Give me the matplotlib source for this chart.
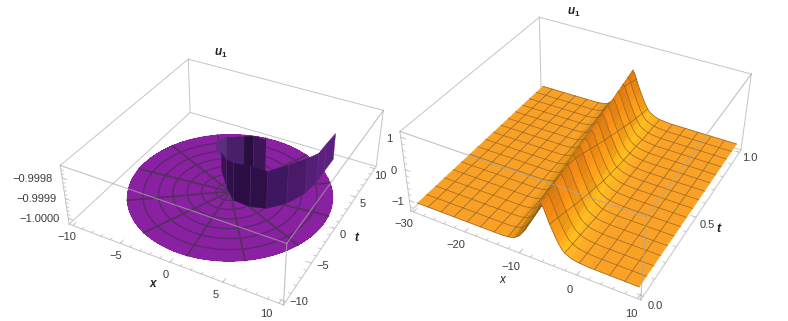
import numpy as np
import matplotlib
matplotlib.use("Agg")
import matplotlib.pyplot as plt
from matplotlib.colors import to_rgba
from mpl_toolkits.mplot3d import proj3d

W, H = 788, 321

plt.rcParams["font.family"] = ["Liberation Sans", "DejaVu Sans"]
plt.rcParams["mathtext.fontset"] = "custom"
plt.rcParams["mathtext.rm"] = "Liberation Sans"
plt.rcParams["mathtext.bf"] = "Liberation Sans:bold"
plt.rcParams["mathtext.bfit"] = "Liberation Sans:italic:bold"

# left panel: polar sheet at u = -1 with a wall on it
disk_level = -1.0
disk_radius = 9.3
disk_cx = 0.25
disk_cy = -0.4
disk_rings = [1.3, 2.6, 3.9, 5.2, 6.5, 7.9]
disk_spokes = [6, 36, 66, 96, 126, 156, 186, 216, 246, 276, 306, 336]

wall_front_x = [-2.02, -0.37, 1.10, 2.86, 4.27, 5.54, 6.39, 6.62, 6.61, 6.6]
wall_front_t = [2.13, 0.08, -1.37, -1.51, -1.03, 0.45, 2.55, 4.66, 6.42, 8.7]
wall_front_u = [-0.999909, -0.999860, -0.999812, -0.999797, -0.999816, -0.999808, -0.999823, -0.999854, -0.999857,
                -0.999865]
wall_front_colors = ["#3d1259", "#30104a", "#2b0e44", "#2e0f48", "#3f1660", "#4a1a68", "#551f78", "#5b2080", "#5b2080"]

wall_back_x = [-3.91, -2.38, -0.60, 0.37, 1.64]
wall_back_t = [4.54, 3.78, 3.90, 4.01, 3.95]
wall_back_u = [-0.999946, -0.999881, -0.999855, -0.999841, -0.999841]
wall_back_colors = ["#5c2c80", "#48206a", "#2b0e40", "#3b1555"]

# right panel: ridge on a flat sheet, the crest moves with t
t_rows = [0, 0.0625, 0.125, 0.1875, 0.25, 0.3125, 0.375, 0.4375, 0.5, 0.5625, 0.625, 0.6875, 0.75, 0.8125, 0.875,
          0.9375, 1.0]
crest_x = [-6.4, -6.68, -6.95, -7.23, -7.5, -7.78, -8.05, -8.33, -8.6, -8.88, -9.15, -9.43, -9.7, -9.98, -10.25,
           -10.53, -10.8]
row_tint = [1.0, 0.95, 1.03, 0.96, 1.02, 0.94, 1.03, 0.97, 1.02, 0.95, 1.04, 0.96, 1.02, 0.95, 1.03, 0.96, 1.0]

left_offset = [-26, -7, -6, -5, -4, -3, -2, -1.2, -0.8, -0.4, 0]
left_u = [-1.12, -1.11, -1.09, -1.05, -0.92, -0.68, -0.36, -0.1, 0.03, 0.2, 0.35]
left_colors = ["#f9a126", "#f9a126", "#ec961c", "#c07c16", "#a86c10", "#9a620c", "#a06a0e", "#a8700f", "#b07610",
               "#c08012"]

right_offset = [0, 0.4, 0.8, 1.2, 1.6, 2, 2.5, 3, 3.5, 4, 5, 6, 8, 22]
right_u = [0.35, 0.25, 0.08, -0.1, -0.25, -0.4, -0.58, -0.73, -0.86, -0.93, -1.02, -1.06, -1.09, -1.1]
right_colors = ["#e9800f", "#ee8612", "#f08a12", "#f59012", "#f89814", "#fa9c14", "#fca616", "#feb418", "#ffbe1c",
                "#feb620", "#fdac24", "#fba626", "#faa228"]
mesh_x = [-27.5, -25, -22.5, -20, -17.5, -15, -12.5, -10, -7.5, -5, -2.5, 0, 2.5, 5, 7.5]

# small nudges of the tick labels along the box
left_x_nudge = [0.5, 0.6, 0.5, 0.2, -0.4]
left_t_nudge = [0.5, 0.15, -0.5, -0.7, -0.85]

BOX = "#c4c4c4"
TEXT = "#3c3c3c"
DARK = "#222222"
DISK = "#8a20a2"

fig = plt.figure(figsize=(W / 100, H / 100), dpi=100)


def make_axes(view, aspect, sol, lims):
    # sol is px per view unit and the view origin in image px; mplot3d spans -0.095..0.09 of view
    s, tx, ty = sol
    size = s * 0.185
    left, bottom = tx - 0.095 * s, ty + 0.095 * s
    ax = fig.add_axes([left / W, (H - bottom) / H, size / W, size / H], projection="3d", computed_zorder=False)
    ax.set_proj_type("persp", focal_length=view[3])
    ax.set_box_aspect(aspect)
    ax.view_init(view[0], view[1], view[2])
    ax.set_xlim(*lims[0])
    ax.set_ylim(*lims[1])
    ax.set_zlim(*lims[2])
    ax.set_axis_off()
    ax.set_facecolor("none")
    return ax


def draw_box(ax, front_z):
    (x0, x1), (y0, y1), (z0, z1) = ax.get_xlim(), ax.get_ylim(), ax.get_zlim()
    back = [([x0, x1], [y1, y1], [z0, z0]), ([x0, x0], [y0, y1], [z0, z0]), ([x0, x0], [y1, y1], [z0, z1]),
            ([x0, x1], [y1, y1], [z1, z1]), ([x0, x0], [y0, y1], [z1, z1]), ([x1, x1], [y0, y1], [z0, z0]),
            ([x0, x1], [y0, y0], [z0, z0]), ([x0, x0], [y0, y0], [z0, z1]), ([x1, x1], [y1, y1], [z0, z1])]
    front = [([x1, x1], [y0, y0], [z0, z1]), ([x0, x1], [y0, y0], [z1, z1]), ([x1, x1], [y0, y1], [z1, z1])]
    for a, b, c in back:
        ax.plot(a, b, c, color=BOX, lw=0.7, zorder=0, clip_on=False)
    for a, b, c in front:
        ax.plot(a, b, c, color="#a8a8a8", lw=0.8, alpha=0.7, zorder=front_z, clip_on=False)


def draw_ticks(ax, xt, tt, zt):
    (x0, x1), (y0, y1), (z0, z1) = ax.get_xlim(), ax.get_ylim(), ax.get_zlim()
    dx, dy = (x1 - x0) * 0.012, (y1 - y0) * 0.012
    for vals, k in ((xt[0], 2), (xt[1], 1)):
        for v in vals:
            ax.plot([v, v], [y0, y0 + k * dy], [z0, z0], color=BOX, lw=0.6, zorder=0, clip_on=False)
    for vals, k in ((tt[0], 2), (tt[1], 1)):
        for v in vals:
            ax.plot([x1, x1 - k * dx], [v, v], [z0, z0], color=BOX, lw=0.6, zorder=0, clip_on=False)
    for vals, k in ((zt[0], 2), (zt[1], 1)):
        for v in vals:
            ax.plot([x0, x0 + k * dx], [y0, y0], [v, v], color=BOX, lw=0.6, zorder=0, clip_on=False)


def tick_label(ax, x, y, z, s):
    # plain 2D text at the projected point of the box
    px, py, _ = proj3d.proj_transform(x, y, z, ax.get_proj())
    ax.text2D(px, py, s.replace("-", "\u2212"), transform=ax.transData, ha="center", va="center", fontsize=8,
              color=TEXT)


def fig_label(x, y, s, **kw):
    fig.text(x / W, 1 - y / H, s, ha="center", va="center", **kw)


def wall(ax, xs, ts, us, colors, z):
    X = np.array([xs, xs])
    T = np.array([ts, ts])
    U = np.array([[disk_level] * len(xs), us])
    fc = np.zeros((2, len(xs), 4))
    for j, c in enumerate(colors):
        fc[:, j] = to_rgba(c)
    ax.plot_surface(X, T, U, facecolors=fc, shade=False, rstride=1, cstride=1, linewidth=0.3, zorder=z, clip_on=False)
    for x, t, u in zip(xs[1:-1], ts[1:-1], us[1:-1]):
        ax.plot([x, x], [t, t], [disk_level, u], color="#5f3a78", lw=0.5, alpha=0.6, zorder=z + 0.1)


# ---- left
axl = make_axes((35.825, -61.704, 0.08, 0.464), (1, 1.007, 0.306), (1763.2, 229.7, 166.0),
                ((-10.4, 10.4), (-10.4, 10.4), (-1.00003, -0.99974)))
draw_box(axl, 9)
draw_ticks(axl, (range(-10, 11, 5), range(-10, 11)), (range(-10, 11, 5), range(-10, 11)),
           (np.arange(-1.0, -0.99979, 1e-4), np.arange(-1.0, -0.99975, 2e-5)))

th = np.radians(np.arange(0, 361, 5))
cx, cy = np.cos(th), np.sin(th)
R, TH = np.meshgrid(np.array([0, disk_radius]), th)
axl.plot_surface(R * np.cos(TH) + disk_cx, R * np.sin(TH) + disk_cy, np.full(R.shape, disk_level), color=DISK,
                 shade=False, rstride=1, cstride=1, linewidth=0, antialiased=False, zorder=1, clip_on=False)
axl.plot(disk_radius * cx + disk_cx, disk_radius * cy + disk_cy, disk_level, color=DISK, lw=0.8, zorder=1)
for r in disk_rings:
    axl.plot(r * cx + disk_cx, r * cy + disk_cy, disk_level, color="#5a2a6c", lw=1.0, zorder=2)
for a in np.radians(disk_spokes):
    axl.plot([disk_cx, disk_radius * np.cos(a) + disk_cx], [disk_cy, disk_radius * np.sin(a) + disk_cy], disk_level,
             color="#55305f", lw=1.3, zorder=2)
wall(axl, wall_back_x, wall_back_t, wall_back_u, wall_back_colors, 3)
wall(axl, wall_front_x, wall_front_t, wall_front_u, wall_front_colors, 4)

for v, nx, nt in zip(range(-10, 11, 5), left_x_nudge, left_t_nudge):
    tick_label(axl, v + nx, -11.9, -1.00003, str(v))
    tick_label(axl, 11.3, v + nt, -1.00003, str(v))
for v, s in zip([-0.9998, -0.9999, -1.0], ["-0.9998", "-0.9999", "-1.0000"]):
    tick_label(axl, -12.53, -11.66, v, s)
fig_label(153, 284, "x", fontsize=8.5, weight="bold", style="italic", color=DARK)
fig_label(356, 238, "t", fontsize=8.5, weight="bold", style="italic", color=DARK)
fig_label(221, 53, r"$\mathbfit{u}_{\mathbf{1}}$", fontsize=8.5, color=DARK)

# ---- right
axr = make_axes((35.973, -62.09, -0.546, 0.467), (1, 1.011, 0.384), (1931.6, 583.9, 141.4),
                ((-30.5, 10.5), (-0.02, 1.02), (-1.35, 1.17)))
draw_box(axr, 9)
draw_ticks(axr, (range(-30, 11, 10), range(-30, 11, 2)), (np.arange(0, 1.01, 0.5), np.arange(0, 1.01, 0.1)),
           ([-1, 0, 1], np.arange(-1.2, 1.1, 0.2)))

T_rows = np.array(t_rows)
crest = np.array(crest_x)
tint = np.array(row_tint)


def sheet(offset, u, colors, z, tinted):
    X = np.clip(crest[:, None] + np.array(offset)[None, :], -29.6, 9.8)
    T = np.repeat(T_rows[:, None], len(offset), axis=1)
    U = np.repeat(np.array(u)[None, :], len(T_rows), axis=0)
    fc = np.ones((len(T_rows), len(offset), 4))
    for j, c in enumerate(colors):
        fc[:, j, :3] = to_rgba(c)[:3]
        if j in tinted:
            fc[:, j, :3] = np.clip(fc[:, j, :3] * tint[:, None], 0, 1)
    axr.plot_surface(X, T, U, facecolors=fc, shade=False, rstride=1, cstride=1, linewidth=0.3, zorder=z,
                     clip_on=False)
    for i in range(len(T_rows)):
        axr.plot(X[i], T[i], U[i], color="#8f6020", lw=0.55, alpha=0.85, zorder=z + 0.1)
    return X, U


XL, UL = sheet(left_offset, left_u, left_colors, 1, [])
XR, UR = sheet(right_offset, right_u, right_colors, 3, range(7))
for x in mesh_x:
    ul = np.array([np.interp(x, XL[i], UL[i]) if x <= crest[i] else np.nan for i in range(len(T_rows))])
    ur = np.array([np.interp(x, XR[i], UR[i]) if x >= crest[i] else np.nan for i in range(len(T_rows))])
    axr.plot([x] * len(T_rows), T_rows, ul, color="#8f6020", lw=0.55, alpha=0.85, zorder=1.2)
    axr.plot([x] * len(T_rows), T_rows, ur, color="#8f6020", lw=0.55, alpha=0.85, zorder=3.2)

for v in range(-30, 11, 10):
    tick_label(axr, v + 0.5, -0.1, -1.35, str(v))
for v in [0.0, 0.5, 1.0]:
    tick_label(axr, 12.8, v - 0.02, -1.35, f"{v:.1f}")
for v in [-1, 0, 1]:
    tick_label(axr, -31.8, -0.05, v, str(v))
fig_label(502, 280, "x", fontsize=8.5, style="italic", color=DARK)
fig_label(719, 229, "t", fontsize=9, weight="bold", style="italic", color=DARK)
fig_label(574, 12, r"$\mathbfit{u}_{\mathbf{1}}$", fontsize=8.5, color=DARK)

fig.savefig("out.png", dpi=100)
